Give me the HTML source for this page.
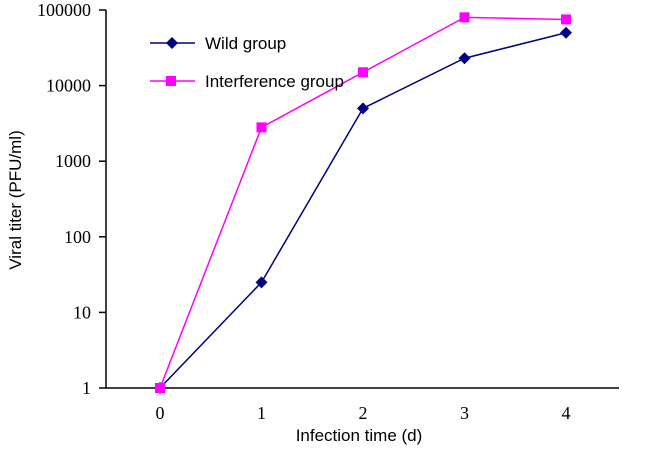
<!DOCTYPE html>
<html><head><meta charset="utf-8"><style>
body{margin:0;background:#fff}
svg text{font-family:"Liberation Sans",sans-serif}
.tick{font-family:"Liberation Serif",serif;font-size:18px}
</style></head><body>
<svg width="650" height="448" xmlns="http://www.w3.org/2000/svg">
<g id="g"></g>
</svg>
<script>
const categories=[0,1,2,3,4];
const wildValues=[1,25,5000,23000,50000];
const interferenceValues=[1,2800,15000,80000,75000];
const yTicks=[1,10,100,1000,10000,100000];
const yTickLabels=["1","10","100","1000","10000","100000"];
const NS="http://www.w3.org/2000/svg";
const g=document.getElementById('g');
const x0=160,dx=101.5;
const X=i=>x0+i*dx;
const Y=v=>388-(Math.log10(v))*75.6;
function mk(t,a,parent){const e=document.createElementNS(NS,t);for(const k in a)e.setAttribute(k,a[k]);(parent||g).appendChild(e);return e;}
let e;
e=mk('line',{x1:106,y1:Y(100000),x2:106,y2:388,stroke:'#000','stroke-width':1.5});


e=mk('line',{x1:105,y1:388,x2:619,y2:388,stroke:'#000','stroke-width':1.5});


yTicks.forEach((v,i)=>{
 const t=mk('line',{x1:99,x2:106,y1:Y(v),y2:Y(v),stroke:'#000','stroke-width':1.5});
 
 
 const l=mk('text',{x:91,y:Y(v)+6,'text-anchor':'end',class:'tick'});l.textContent=yTickLabels[i];
 
 
});
categories.forEach((c,i)=>{
 const l=mk('text',{x:X(i),y:419,'text-anchor':'middle',class:'tick'});l.textContent=c;
 
 
});
e=mk('text',{x:359,y:441,'text-anchor':'middle','font-size':17});e.textContent='Infection time (d)';


e=mk('text',{x:0,y:0,'text-anchor':'middle','font-size':17,transform:'translate(21,200) rotate(-90)'});e.textContent='Viral titer (PFU/ml)';


function series(vals,color,shape,name){
 const p=mk('polyline',{points:vals.map((v,i)=>X(i)+','+Y(v)).join(' '),fill:'none',stroke:color,'stroke-width':1.5});
 
 
 vals.forEach((v,i)=>{marker(X(i),Y(v),color,shape,name);});
}
function marker(x,y,color,shape,name){
 let m;
 if(shape==='d') m=mk('polygon',{points:`${x},${y-6} ${x+6},${y} ${x},${y+6} ${x-6},${y}`,fill:color});
 else m=mk('rect',{x:x-5,y:y-5,width:10,height:10,fill:color});
 
 
}
series(wildValues,'#000080','d','wild');
series(interferenceValues,'#ff00ff','s','interference');
e=mk('line',{x1:150,y1:43,x2:195,y2:43,stroke:'#000080','stroke-width':1.5});


marker(172,43,'#000080','d','legend-wild');
e=mk('text',{x:205,y:49,'font-size':17});e.textContent='Wild group';


e=mk('line',{x1:150,y1:81,x2:195,y2:81,stroke:'#ff00ff','stroke-width':1.5});


marker(171,81,'#ff00ff','s','legend-interference');
e=mk('text',{x:205,y:87,'font-size':17});e.textContent='Interference group';


</script>
</body></html>
